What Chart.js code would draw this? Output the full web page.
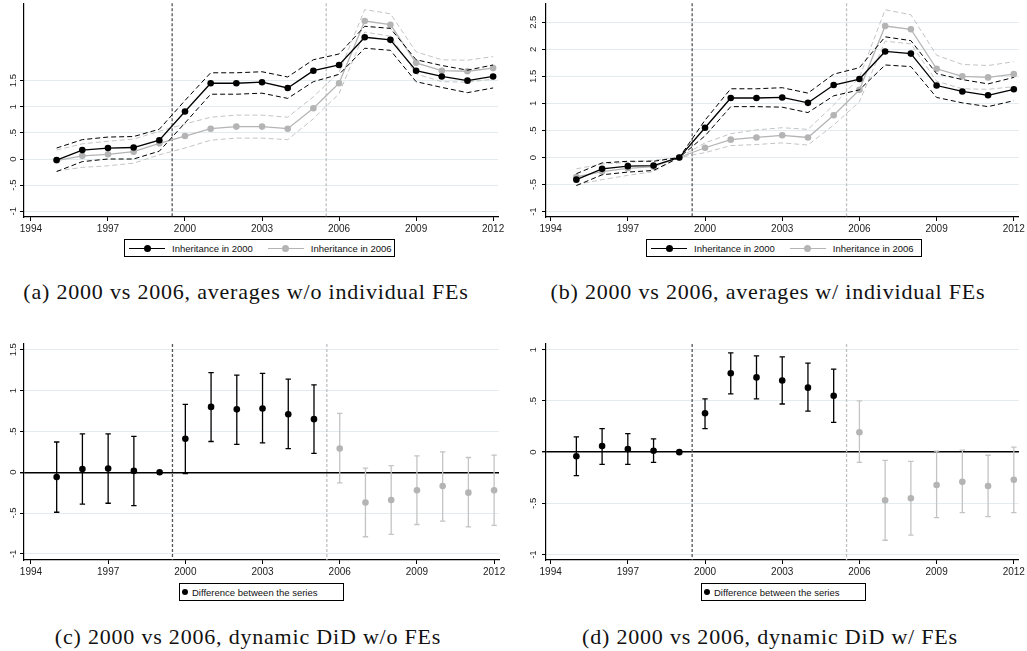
<!DOCTYPE html>
<html>
<head>
<meta charset="utf-8">
<script src="https://cdn.jsdelivr.net/npm/chart.js@4.4.1/dist/chart.umd.min.js"></script>
<style>
body{margin:0;background:#fff;width:1027px;height:651px;overflow:hidden;position:relative;font-family:"Liberation Sans",Arial,sans-serif}
canvas{position:absolute}
.legend{position:absolute;border:1px solid #000;height:18px;box-sizing:border-box;font-size:9.5px;color:#111;display:flex;align-items:center;background:#fff;white-space:nowrap}
.key{position:relative;display:inline-block;width:36px;height:7px;margin:0 7px 0 4px}
.key::before{content:"";position:absolute;left:0;right:0;top:3px;height:1.2px;background:currentColor}
.key::after{content:"";position:absolute;left:14.5px;top:0;width:7px;height:7px;border-radius:50%;background:currentColor}
.dot{display:inline-block;width:6px;height:6px;border-radius:50%;background:#000;margin:0 4px 0 2px}
.gap{display:inline-block;width:11px}
.caption{position:absolute;font-family:"Liberation Serif",serif;font-size:22px;line-height:22px;letter-spacing:0.8px;color:#111;white-space:nowrap;transform:translateX(-50%)}
</style>
</head>
<body>
<canvas id="chartA" width="510" height="236" style="left:0;top:0"></canvas>
<canvas id="chartB" width="517" height="236" style="left:510px;top:0"></canvas>
<canvas id="chartC" width="510" height="240" style="left:0;top:340px"></canvas>
<canvas id="chartD" width="517" height="240" style="left:510px;top:340px"></canvas>

<div class="legend" style="left:124px;top:239px;width:271px"><span class="key" style="color:#000"></span>Inheritance in 2000<span class="gap"></span><span class="key" style="color:#b4b4b4"></span>Inheritance in 2006</div>
<div class="legend" style="left:646px;top:239px;width:276px"><span class="key" style="color:#000"></span>Inheritance in 2000<span class="gap"></span><span class="key" style="color:#b4b4b4"></span>Inheritance in 2006</div>
<div class="legend" style="left:179px;top:583px;width:165px"><span class="dot"></span>Difference between the series</div>
<div class="legend" style="left:701px;top:583px;width:165px"><span class="dot"></span>Difference between the series</div>

<div class="caption" style="left:246px;top:281px">(a) 2000 vs 2006, averages w/o individual FEs</div>
<div class="caption" style="left:768px;top:281px">(b) 2000 vs 2006, averages w/ individual FEs</div>
<div class="caption" style="left:248px;top:626px">(c) 2000 vs 2006, dynamic DiD w/o FEs</div>
<div class="caption" style="left:770px;top:626px">(d) 2000 vs 2006, dynamic DiD w/ FEs</div>

<script>
const years = [1995, 1996, 1997, 1998, 1999, 2000, 2001, 2002, 2003, 2004, 2005, 2006, 2007, 2008, 2009, 2010, 2011, 2012];
const xTicks = [1994, 1997, 2000, 2003, 2006, 2009, 2012];
const eventYears = [1999.5, 2005.5];

// (a) averages without individual FEs
const aInh2000 = [-0.02, 0.17, 0.21, 0.22, 0.36, 0.91, 1.45, 1.45, 1.47, 1.36, 1.69, 1.80, 2.33, 2.28, 1.69, 1.58, 1.50, 1.58];
const aInh2000Hi = [0.21, 0.37, 0.42, 0.43, 0.57, 1.12, 1.65, 1.65, 1.67, 1.57, 1.90, 2.01, 2.54, 2.50, 1.90, 1.79, 1.70, 1.80];
const aInh2000Lo = [-0.24, -0.05, 0.00, 0.00, 0.15, 0.69, 1.24, 1.24, 1.26, 1.16, 1.48, 1.62, 2.12, 2.08, 1.48, 1.37, 1.27, 1.36];
const aInh2006 = [-0.03, 0.06, 0.09, 0.14, 0.30, 0.44, 0.58, 0.62, 0.62, 0.58, 0.97, 1.45, 2.64, 2.57, 1.84, 1.69, 1.68, 1.74];
const aInh2006Hi = [0.17, 0.29, 0.34, 0.38, 0.53, 0.67, 0.80, 0.84, 0.84, 0.80, 1.19, 1.66, 2.86, 2.78, 2.05, 1.90, 1.89, 1.96];
const aInh2006Lo = [-0.23, -0.16, -0.13, -0.08, 0.08, 0.21, 0.36, 0.40, 0.40, 0.37, 0.77, 1.25, 2.43, 2.35, 1.63, 1.48, 1.47, 1.53];
const aYTicks = [-1, -0.5, 0, 0.5, 1, 1.5];

// (b) averages with individual FEs
const bInh2000 = [-0.41, -0.21, -0.16, -0.15, 0, 0.55, 1.10, 1.10, 1.11, 1.01, 1.34, 1.45, 1.96, 1.92, 1.33, 1.22, 1.15, 1.26];
const bInh2000Hi = [-0.30, -0.10, -0.07, -0.07, 0, 0.69, 1.27, 1.27, 1.29, 1.19, 1.54, 1.66, 2.23, 2.16, 1.55, 1.44, 1.36, 1.48];
const bInh2000Lo = [-0.52, -0.32, -0.27, -0.24, 0, 0.40, 0.94, 0.94, 0.93, 0.83, 1.14, 1.25, 1.71, 1.68, 1.11, 1.01, 0.94, 1.05];
const bInh2006 = [-0.36, -0.26, -0.20, -0.17, 0, 0.18, 0.33, 0.37, 0.41, 0.37, 0.78, 1.25, 2.43, 2.37, 1.64, 1.50, 1.48, 1.54];
const bInh2006Hi = [-0.21, -0.12, -0.09, -0.05, 0, 0.27, 0.44, 0.51, 0.55, 0.52, 0.97, 1.48, 2.73, 2.64, 1.89, 1.72, 1.70, 1.77];
const bInh2006Lo = [-0.50, -0.41, -0.33, -0.26, 0, 0.09, 0.22, 0.24, 0.27, 0.23, 0.60, 1.03, 2.15, 2.10, 1.41, 1.27, 1.26, 1.31];
const bYTicks = [-1, -0.5, 0, 0.5, 1, 1.5, 2, 2.5];

// (c) dynamic DiD without FEs
const cDiff = [-0.06, 0.04, 0.045, 0.016, 0, 0.41, 0.80, 0.77, 0.78, 0.71, 0.65, 0.29, -0.37, -0.34, -0.22, -0.17, -0.25, -0.22];
const cDiffHi = [0.37, 0.47, 0.47, 0.44, null, 0.83, 1.22, 1.19, 1.21, 1.14, 1.07, 0.72, 0.05, 0.08, 0.20, 0.25, 0.18, 0.21];
const cDiffLo = [-0.49, -0.39, -0.38, -0.41, null, -0.016, 0.376, 0.34, 0.36, 0.29, 0.23, -0.13, -0.79, -0.76, -0.64, -0.60, -0.67, -0.65];
const cYTicks = [-1, -0.5, 0, 0.5, 1, 1.5];

// (d) dynamic DiD with FEs
const dDiff = [-0.04, 0.06, 0.03, 0.013, 0, 0.38, 0.77, 0.73, 0.70, 0.63, 0.55, 0.195, -0.47, -0.45, -0.32, -0.29, -0.33, -0.27];
const dDiffHi = [0.15, 0.23, 0.18, 0.13, null, 0.52, 0.97, 0.94, 0.93, 0.87, 0.81, 0.50, -0.08, -0.09, 0.01, 0.02, -0.03, 0.05];
const dDiffLo = [-0.23, -0.12, -0.12, -0.10, null, 0.23, 0.57, 0.52, 0.47, 0.40, 0.29, -0.10, -0.86, -0.81, -0.64, -0.59, -0.63, -0.59];
const dYTicks = [-1, -0.5, 0, 0.5, 1];

const BLACK = '#000';
const GREY = '#b4b4b4';
const GREY_CI = '#c4c4c4';
const GRID = '#e2ebed';
const labelFont = '"Liberation Sans", Arial, sans-serif';

function fmt(v) {
    if (v === 0) return '0';
    return (v < 0 ? '-' : '') + String(Math.abs(v)).replace(/^0\./, '.');
}

// rotated y labels, Stata style
const yLabels = {
    id: 'yLabels',
    afterDraw(chart, args, opts) {
        const y = chart.scales.y, ctx = chart.ctx;
        ctx.save();
        ctx.fillStyle = '#222';
        ctx.font = '9.5px ' + labelFont;
        ctx.textAlign = 'center';
        ctx.textBaseline = 'middle';
        y.ticks.forEach(t => {
            ctx.save();
            ctx.translate(chart.chartArea.left - (opts.offset || 12), y.getPixelForValue(t.value));
            ctx.rotate(-Math.PI / 2);
            ctx.fillText(fmt(t.value), 0, 0);
            ctx.restore();
        });
        ctx.restore();
    }
};

const eventLines = {
    id: 'eventLines',
    beforeDatasetsDraw(chart) {
        const x = chart.scales.x, a = chart.chartArea, ctx = chart.ctx;
        const colors = ['#555', '#c0c0c0'];
        eventYears.forEach((yr, i) => {
            const px = x.getPixelForValue(yr);
            ctx.save();
            ctx.strokeStyle = colors[i];
            ctx.lineWidth = 1.3;
            ctx.setLineDash([3, 2]);
            ctx.beginPath();
            ctx.moveTo(px, a.top);
            ctx.lineTo(px, a.bottom);
            ctx.stroke();
            ctx.restore();
        });
    }
};

const errorBars = {
    id: 'errorBars',
    beforeDatasetsDraw(chart, args, opts) {
        if (!opts.lo) return;
        const x = chart.scales.x, y = chart.scales.y, ctx = chart.ctx;
        ctx.save();
        ctx.lineWidth = 1.3;
        years.forEach((yr, i) => {
            if (opts.lo[i] == null) return;
            const px = x.getPixelForValue(yr);
            const p1 = y.getPixelForValue(opts.lo[i]);
            const p2 = y.getPixelForValue(opts.hi[i]);
            ctx.strokeStyle = yr < 2006 ? BLACK : GREY_CI;
            ctx.beginPath();
            ctx.moveTo(px, p1); ctx.lineTo(px, p2);
            ctx.moveTo(px - 2.7, p1); ctx.lineTo(px + 2.7, p1);
            ctx.moveTo(px - 2.7, p2); ctx.lineTo(px + 2.7, p2);
            ctx.stroke();
        });
        ctx.restore();
    }
};

function makeScales(xr, yr, yTicks, yWidth, xHeight, zeroLine) {
    const isZero = c => zeroLine && c.tick && c.tick.value === 0;
    return {
        x: {
            type: 'linear', min: xr[0], max: xr[1],
            afterBuildTicks: s => { s.ticks = xTicks.map(v => ({ value: v })); },
            afterFit: s => { s.height = xHeight; },
            ticks: { autoSkip: false, maxRotation: 0, padding: 2, color: '#222',
                     font: { family: labelFont, size: 10 }, callback: v => String(v) },
            grid: { drawOnChartArea: false, drawTicks: true, tickLength: 4, color: BLACK, lineWidth: 1 },
            border: { display: true, color: BLACK, width: 1.2 }
        },
        y: {
            type: 'linear', min: yr[0], max: yr[1],
            afterBuildTicks: s => { s.ticks = yTicks.map(v => ({ value: v })); },
            afterFit: s => { s.width = yWidth; },
            ticks: { display: false },
            grid: { color: c => isZero(c) ? BLACK : GRID, lineWidth: c => isZero(c) ? 1.4 : 1,
                    tickColor: BLACK, tickLength: 4, drawTicks: true },
            border: { display: true, color: BLACK, width: 1.2 }
        }
    };
}

function series(vals, color, dashed, points) {
    return {
        data: years.map((yr, i) => ({ x: yr, y: vals[i] })),
        borderColor: color, backgroundColor: color,
        borderWidth: dashed ? 1 : 1.3,
        borderDash: dashed ? [5, 3] : [],
        pointRadius: points ? 3.3 : 0, pointHoverRadius: 0, pointBorderWidth: 0,
        tension: 0, fill: false
    };
}

function averagesChart(id, xr, yr, yTicks, yWidth, xHeight, pad, s) {
    new Chart(document.getElementById(id), {
        type: 'line',
        data: { datasets: [
            series(s[0], BLACK, false, true),
            series(s[1], BLACK, true, false),
            series(s[2], BLACK, true, false),
            series(s[3], GREY, false, true),
            series(s[4], GREY_CI, true, false),
            series(s[5], GREY_CI, true, false)
        ] },
        options: {
            responsive: false, animation: false,
            layout: { padding: pad },
            scales: makeScales(xr, yr, yTicks, yWidth, xHeight, false),
            plugins: { legend: { display: false }, tooltip: { enabled: false }, yLabels: { offset: yWidth === 24 ? 11 : 13 } }
        },
        plugins: [eventLines, yLabels]
    });
}

function didChart(id, xr, yr, yTicks, yWidth, xHeight, pad, diff, lo, hi) {
    new Chart(document.getElementById(id), {
        type: 'scatter',
        data: { datasets: [{
            data: years.map((yr, i) => ({ x: yr, y: diff[i] })),
            pointRadius: 3.3, pointHoverRadius: 0, pointBorderWidth: 0,
            pointBackgroundColor: years.map(yr => yr < 2006 ? BLACK : GREY),
            backgroundColor: BLACK, borderColor: BLACK
        }] },
        options: {
            responsive: false, animation: false,
            layout: { padding: pad },
            scales: makeScales(xr, yr, yTicks, yWidth, xHeight, true),
            plugins: { legend: { display: false }, tooltip: { enabled: false },
                       errorBars: { lo: lo, hi: hi }, yLabels: { offset: yWidth === 24 ? 11 : 13 } }
        },
        plugins: [eventLines, errorBars, yLabels]
    });
}

averagesChart('chartA', [1993.73, 2012.19], [-1.11, 2.98], aYTicks, 24, 19,
    { left: 0, top: 0, right: 12, bottom: 0 },
    [aInh2000, aInh2000Hi, aInh2000Lo, aInh2006, aInh2006Hi, aInh2006Lo]);
averagesChart('chartB', [1993.82, 2012.2], [-1.10, 2.85], bYTicks, 36, 19,
    { left: 0, top: 0, right: 7, bottom: 0 },
    [bInh2000, bInh2000Hi, bInh2000Lo, bInh2006, bInh2006Hi, bInh2006Lo]);
didChart('chartC', [1993.73, 2012.19], [-1.075, 1.57], cYTicks, 24, 20,
    { left: 0, top: 4, right: 11, bottom: 0 }, cDiff, cDiffLo, cDiffHi);
didChart('chartD', [1993.82, 2012.2], [-1.053, 1.056], dYTicks, 36, 20,
    { left: 0, top: 4, right: 7, bottom: 0 }, dDiff, dDiffLo, dDiffHi);
</script>
</body>
</html>
